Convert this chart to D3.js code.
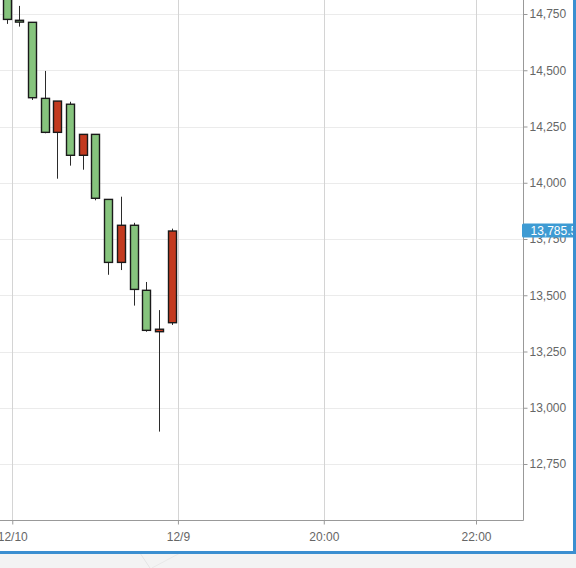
<!DOCTYPE html>
<html><head><meta charset="utf-8">
<script src="https://cdnjs.cloudflare.com/ajax/libs/d3/7.8.5/d3.min.js"></script>
<style>html,body{margin:0;padding:0;background:#fff;overflow:hidden}svg{display:block}</style>
</head><body><svg id="c" width="576" height="568"></svg>
<script>
// candle data (bar index order, 10-minute bars)
const opens  = [14850, 14722, 14713, 14375, 14224, 14349, 14122, 14215, 13926, 13646, 13811, 13522, 13338, 13378];
const highs  = [14870, 14786, 14713, 14497, 14363, 14360, 14215, 14215, 13926, 13938, 13822, 13559, 13434, 13796];
const lows   = [14706, 14694, 14368, 14220, 14018, 14076, 14058, 13922, 13591, 13612, 13454, 13338, 12894, 13368];
const closes = [14726, 14714, 14378, 14224, 14363, 14122, 14215, 13931, 13646, 13811, 13526, 13344, 13349, 13785.5];
const yTicks = [12750, 13000, 13250, 13500, 13750, 14000, 14250, 14500, 14750];
const xTickPos = [0.44, 13.5, 25, 37];
const xTickLabels = ["12/10", "12/9", "20:00", "22:00"];
const lastPrice = 13785.5;

const svg = d3.select("#c");
const W = 576, H = 568;
const plotR = 523.5, plotB = 520.5;

svg.append("rect").attr("x",0).attr("y",0).attr("width",W).attr("height",H).attr("fill","#fff");
// grey footer
svg.append("rect").attr("x",0).attr("y",553).attr("width",W).attr("height",H-553).attr("fill","#f3f3f3");
svg.append("line").attr("x1",140).attr("y1",553).attr("x2",150).attr("y2",568).attr("stroke","#e4e4e4");
svg.append("line").attr("x1",180).attr("y1",553).attr("x2",152).attr("y2",568).attr("stroke","#e8e8e8");

const x = d3.scaleLinear().domain([0, 37]).range([6.7, 476]);
const y = d3.scaleLinear().domain([12750, 14750]).range([464, 14]);

const g = svg.append("g");
// horizontal grid
g.selectAll("line.hg").data(yTicks).join("line").attr("class","hg")
  .attr("x1",0).attr("x2",plotR).attr("y1",d=>Math.round(y(d))+0.5).attr("y2",d=>Math.round(y(d))+0.5)
  .attr("stroke","#ebebeb").attr("stroke-width",1);
// vertical grid
g.selectAll("line.vg").data(xTickPos).join("line").attr("class","vg")
  .attr("y1",0).attr("y2",plotB).attr("x1",d=>Math.round(x(d))+0.5).attr("x2",d=>Math.round(x(d))+0.5)
  .attr("stroke","#d4d4d4").attr("stroke-width",1);

// candles
const idx = d3.range(opens.length);
const bw = 8;
const cg = svg.append("g");
cg.selectAll("line.w").data(idx).join("line").attr("class","w")
  .attr("x1",i=>Math.round(x(i))+0.5).attr("x2",i=>Math.round(x(i))+0.5)
  .attr("y1",i=>y(highs[i])).attr("y2",i=>y(lows[i]))
  .attr("stroke","#2b2b2b").attr("stroke-width",1);
cg.selectAll("rect.b").data(idx).join("rect").attr("class","b")
  .attr("x",i=>Math.round(x(i))+0.5-bw/2)
  .attr("width",bw)
  .attr("y",i=>y(Math.max(opens[i],closes[i])))
  .attr("height",i=>Math.max(1.5, Math.abs(y(opens[i])-y(closes[i]))))
  .attr("fill",i=>closes[i]>opens[i] ? "#c33a1f" : "#86c47d")
  .attr("stroke","#1a1a1a").attr("stroke-width",1.4);

// right axis
const ya = d3.axisRight(y).tickValues(yTicks).tickSize(4).tickPadding(2).tickFormat(d3.format(","));
const yag = svg.append("g").attr("transform",`translate(${plotR},0)`).call(ya);
yag.select(".domain").remove();
yag.selectAll("line").attr("stroke","#999");
yag.selectAll("text").attr("fill","#666").style("font-family","Arial, 'Liberation Sans', sans-serif").style("font-size","12px");
svg.append("line").attr("x1",plotR).attr("x2",plotR).attr("y1",0).attr("y2",plotB).attr("stroke","#999");

// bottom axis
const xa = d3.axisBottom(x).tickValues(xTickPos).tickSize(4).tickPadding(8).tickFormat((d,i)=>xTickLabels[i]);
const xag = svg.append("g").attr("transform",`translate(0,${plotB})`).call(xa);
xag.select(".domain").remove();
xag.selectAll("line").attr("stroke","#999");
xag.selectAll("text").attr("fill","#666").style("font-family","Arial, 'Liberation Sans', sans-serif").style("font-size","12px");
svg.append("line").attr("x1",0).attr("x2",plotR).attr("y1",plotB).attr("y2",plotB).attr("stroke","#999");

// last price label
const ly = y(lastPrice);
svg.append("rect").attr("x",522).attr("y",ly-7.5).attr("width",60).attr("height",14).attr("fill","#3e9bd3").attr("rx",1.5);
svg.append("text").attr("x",530.5).attr("y",ly+4.3).attr("fill","#fff")
  .style("font-family","Arial, 'Liberation Sans', sans-serif").style("font-size","12px").text(d3.format(",.1f")(lastPrice));

// blue frame
svg.append("rect").attr("x",573).attr("y",0).attr("width",3).attr("height",554).attr("fill","#3b8fd0");
svg.append("rect").attr("x",0).attr("y",551).attr("width",576).attr("height",3).attr("fill","#3b8fd0");
</script></body></html>
